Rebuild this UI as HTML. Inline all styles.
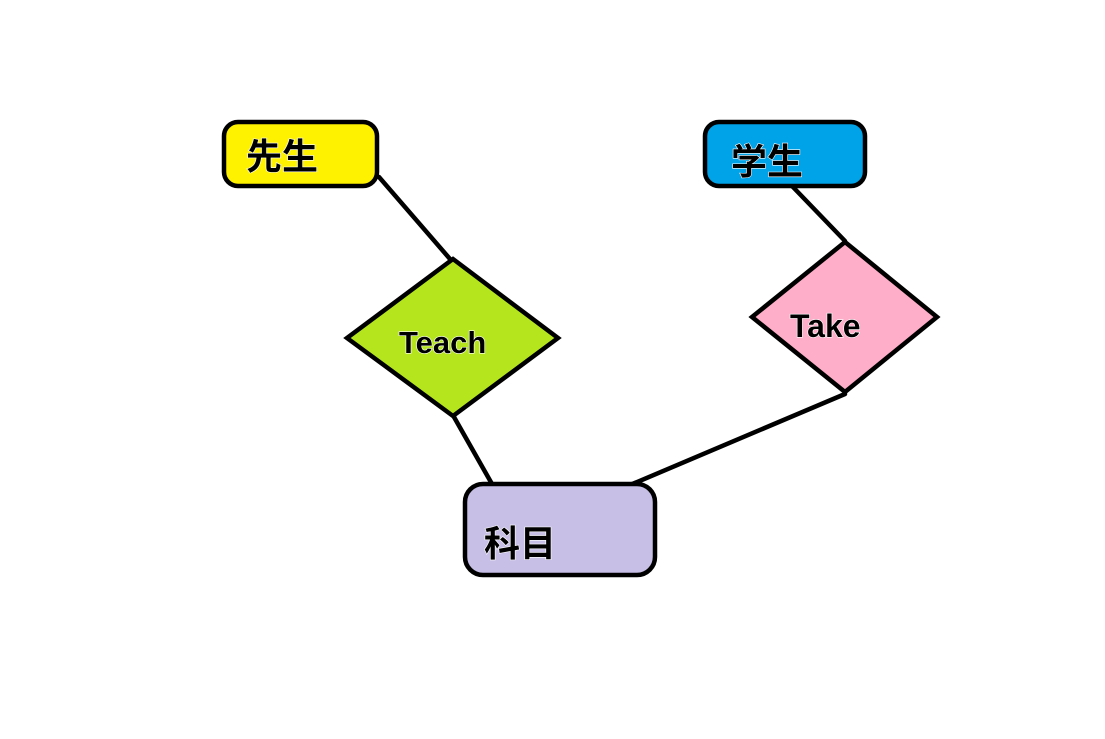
<!DOCTYPE html>
<html><head><meta charset="utf-8"><style>
html,body{margin:0;padding:0;background:#fff;}
svg{display:block;}
text{font-family:"Liberation Sans","Noto Sans CJK JP",sans-serif;font-weight:bold;fill:#000;stroke:#fff;stroke-width:1.2px;paint-order:stroke;}
</style></head><body>
<svg width="1105" height="739" viewBox="0 0 1105 739" xmlns="http://www.w3.org/2000/svg">
<g stroke="#000" stroke-width="4.5" fill="none" stroke-linecap="round">
<line x1="379" y1="177" x2="450" y2="259"/>
<line x1="454" y1="417" x2="492" y2="484"/>
<line x1="792" y1="186" x2="845" y2="241"/>
<line x1="845" y1="394" x2="630" y2="485"/>
</g>
<rect x="224" y="122" width="153" height="64" rx="14" fill="#fff200" stroke="#000" stroke-width="4.5"/>
<rect x="705" y="122" width="160" height="64" rx="14" fill="#00a2e8" stroke="#000" stroke-width="4.5"/>
<rect x="465" y="484" width="190" height="91" rx="18" fill="#c8bfe7" stroke="#000" stroke-width="4.5"/>
<polygon points="453,259 558,338 453,416 347,338" fill="#b5e61d" stroke="#000" stroke-width="4.5"/>
<polygon points="845,242 937,317 845,392 752,317" fill="#ffaec9" stroke="#000" stroke-width="4.5"/>
<text x="246" y="169" font-size="36">先生</text>
<text x="731" y="174" font-size="36">学生</text>
<text x="484" y="556" font-size="36">科目</text>
<text x="399" y="353" font-size="31">Teach</text>
<text x="790" y="337" font-size="32">Take</text>
</svg>
</body></html>
